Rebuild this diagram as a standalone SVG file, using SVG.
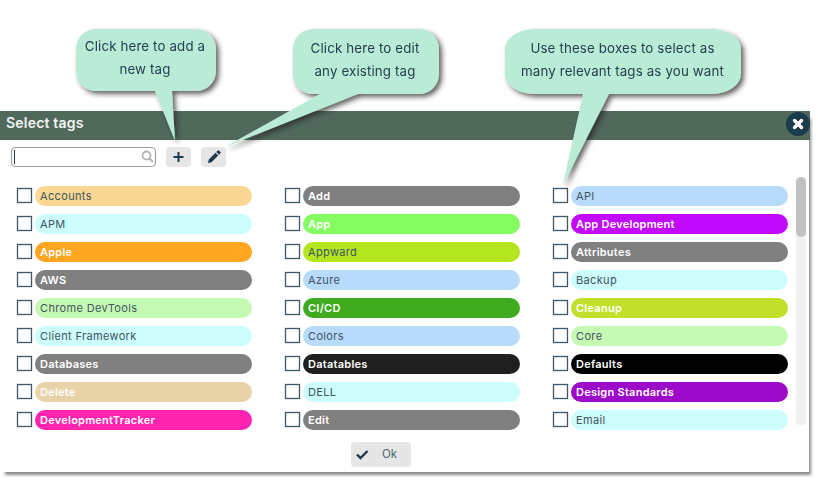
<svg xmlns="http://www.w3.org/2000/svg" width="818" height="480" viewBox="0 0 818 480">
<defs>
<style>
text{font-family:"Inter","Open Sans","Liberation Sans",sans-serif}
.cb{fill:#fff;stroke:#3f5866;stroke-width:1.3}
.pill{stroke:none}
.d{font-size:11px;fill:#3f5560;letter-spacing:.35px}
.w{font-size:11px;fill:#fff;font-weight:600;letter-spacing:.25px}
.co{fill:#baebd6}
.ct{font-size:13.300px;fill:#24404f;text-anchor:middle;letter-spacing:.15px}
.btn{fill:#e6e6e6}
.ic{fill:none;stroke:#1f3a4a;stroke-width:2}
</style>
<filter id="dlg" x="-2%" y="-2%" width="104%" height="104%"><feDropShadow dx="2" dy="3" stdDeviation="1.6" flood-color="#555" flood-opacity=".7"/></filter>
<filter id="sh" x="-20%" y="-20%" width="140%" height="150%"><feDropShadow dx="3" dy="3" stdDeviation="2.4" flood-color="#222" flood-opacity=".7"/></filter>
</defs>
<rect width="818" height="480" fill="#fff"/>
<g id="dialog">
<rect x="3" y="115" width="806" height="357" fill="#fff" filter="url(#dlg)"/>
<rect x="0" y="111" width="810" height="29" fill="#50695b"/>
<text x="6" y="128" style="font-size:14px;font-weight:600;fill:#f2f5f3;letter-spacing:.2px">Select tags</text>
<circle cx="798" cy="124" r="12" fill="#1b3a4b"/>
<path d="M794.500 120.500l7 7M801.500 120.500l-7 7" stroke="#fff" stroke-width="3.400" stroke-linecap="round"/>
</g>
<g id="search">
<rect x="11.500" y="147.500" width="144" height="19" rx="4" fill="#fff" stroke="#a0a0a0" stroke-width="1.200"/>
<path d="M14.500 150v14" stroke="#1f3a4a" stroke-width="1"/>
<circle cx="146.500" cy="155.500" r="4" fill="none" stroke="#b5b5b5" stroke-width="1.800"/>
<path d="M149.500 158.500l3.500 3.500" stroke="#b5b5b5" stroke-width="2.200"/>
</g>
<g id="add-button">
<rect class="btn" x="166" y="147" width="25" height="20" rx="4"/>
<path class="ic" d="M178.500 152v10M173.500 157h10"/>
</g>
<g id="edit-button">
<rect class="btn" x="201" y="147" width="25" height="20" rx="4"/>
<path d="M208 163l.8-3.500 6.700-6.700 2.700 2.700-6.700 6.700zM216.300 152l1.500-1.500a.8 .8 0 0 1 1.100 0l1.600 1.600a.8 .8 0 0 1 0 1.100l-1.500 1.500z" fill="#1f3a4a"/>
</g>
<g id="scrollbar">
<rect x="796" y="177" width="10" height="248" rx="3" fill="#f1f1f1"/>
<rect x="796" y="177" width="10" height="60" rx="5" fill="#c1c1c1"/>
</g>
<g id="tag-accounts"><rect class="cb" x="17.500" y="188.500" width="14" height="14"/><rect class="pill" x="35" y="186" width="217" height="20" rx="10" fill="#fbd794"/><text class="d" x="40" y="200">Accounts</text></g>
<g id="tag-apm"><rect class="cb" x="17.500" y="216.500" width="14" height="14"/><rect class="pill" x="35" y="214" width="217" height="20" rx="10" fill="#ccfcfc"/><text class="d" x="40" y="228">APM</text></g>
<g id="tag-apple"><rect class="cb" x="17.500" y="244.500" width="14" height="14"/><rect class="pill" x="35" y="242" width="217" height="20" rx="10" fill="#ffa51f"/><text class="w" x="40" y="256">Apple</text></g>
<g id="tag-aws"><rect class="cb" x="17.500" y="272.500" width="14" height="14"/><rect class="pill" x="35" y="270" width="217" height="20" rx="10" fill="#808080"/><text class="w" x="40" y="284">AWS</text></g>
<g id="tag-chrome-devtools"><rect class="cb" x="17.500" y="300.500" width="14" height="14"/><rect class="pill" x="35" y="298" width="217" height="20" rx="10" fill="#c6fab4"/><text class="d" x="40" y="312">Chrome DevTools</text></g>
<g id="tag-client-framework"><rect class="cb" x="17.500" y="328.500" width="14" height="14"/><rect class="pill" x="35" y="326" width="217" height="20" rx="10" fill="#ccfcfc"/><text class="d" x="40" y="340">Client Framework</text></g>
<g id="tag-databases"><rect class="cb" x="17.500" y="356.500" width="14" height="14"/><rect class="pill" x="35" y="354" width="217" height="20" rx="10" fill="#808080"/><text class="w" x="40" y="368">Databases</text></g>
<g id="tag-delete"><rect class="cb" x="17.500" y="384.500" width="14" height="14"/><rect class="pill" x="35" y="382" width="217" height="20" rx="10" fill="#e8d2a8"/><text class="w" x="40" y="396">Delete</text></g>
<g id="tag-developmenttracker"><rect class="cb" x="17.500" y="412.500" width="14" height="14"/><rect class="pill" x="35" y="410" width="217" height="20" rx="10" fill="#ff24ad"/><text class="w" x="40" y="424">DevelopmentTracker</text></g>
<g id="tag-add"><rect class="cb" x="285.500" y="188.500" width="14" height="14"/><rect class="pill" x="303" y="186" width="217" height="20" rx="10" fill="#808080"/><text class="w" x="308" y="200">Add</text></g>
<g id="tag-app"><rect class="cb" x="285.500" y="216.500" width="14" height="14"/><rect class="pill" x="303" y="214" width="217" height="20" rx="10" fill="#85fc62"/><text class="w" x="308" y="228">App</text></g>
<g id="tag-appward"><rect class="cb" x="285.500" y="244.500" width="14" height="14"/><rect class="pill" x="303" y="242" width="217" height="20" rx="10" fill="#b3e61e"/><text class="d" x="308" y="256">Appward</text></g>
<g id="tag-azure"><rect class="cb" x="285.500" y="272.500" width="14" height="14"/><rect class="pill" x="303" y="270" width="217" height="20" rx="10" fill="#b8dafc"/><text class="d" x="308" y="284">Azure</text></g>
<g id="tag-cicd"><rect class="cb" x="285.500" y="300.500" width="14" height="14"/><rect class="pill" x="303" y="298" width="217" height="20" rx="10" fill="#40ab1e"/><text class="w" x="308" y="312">CI/CD</text></g>
<g id="tag-colors"><rect class="cb" x="285.500" y="328.500" width="14" height="14"/><rect class="pill" x="303" y="326" width="217" height="20" rx="10" fill="#b8dafc"/><text class="d" x="308" y="340">Colors</text></g>
<g id="tag-datatables"><rect class="cb" x="285.500" y="356.500" width="14" height="14"/><rect class="pill" x="303" y="354" width="217" height="20" rx="10" fill="#1f1f1f"/><text class="w" x="308" y="368">Datatables</text></g>
<g id="tag-dell"><rect class="cb" x="285.500" y="384.500" width="14" height="14"/><rect class="pill" x="303" y="382" width="217" height="20" rx="10" fill="#ccfcfc"/><text class="d" x="308" y="396">DELL</text></g>
<g id="tag-edit"><rect class="cb" x="285.500" y="412.500" width="14" height="14"/><rect class="pill" x="303" y="410" width="217" height="20" rx="10" fill="#808080"/><text class="w" x="308" y="424">Edit</text></g>
<g id="tag-api"><rect class="cb" x="553.500" y="188.500" width="14" height="14"/><rect class="pill" x="571" y="186" width="217" height="20" rx="10" fill="#b8dafc"/><text class="d" x="576" y="200">API</text></g>
<g id="tag-app-development"><rect class="cb" x="553.500" y="216.500" width="14" height="14"/><rect class="pill" x="571" y="214" width="217" height="20" rx="10" fill="#c20aff"/><text class="w" x="576" y="228">App Development</text></g>
<g id="tag-attributes"><rect class="cb" x="553.500" y="244.500" width="14" height="14"/><rect class="pill" x="571" y="242" width="217" height="20" rx="10" fill="#808080"/><text class="w" x="576" y="256">Attributes</text></g>
<g id="tag-backup"><rect class="cb" x="553.500" y="272.500" width="14" height="14"/><rect class="pill" x="571" y="270" width="217" height="20" rx="10" fill="#ccfcfc"/><text class="d" x="576" y="284">Backup</text></g>
<g id="tag-cleanup"><rect class="cb" x="553.500" y="300.500" width="14" height="14"/><rect class="pill" x="571" y="298" width="217" height="20" rx="10" fill="#c2e02a"/><text class="w" x="576" y="312">Cleanup</text></g>
<g id="tag-core"><rect class="cb" x="553.500" y="328.500" width="14" height="14"/><rect class="pill" x="571" y="326" width="217" height="20" rx="10" fill="#c6fab4"/><text class="d" x="576" y="340">Core</text></g>
<g id="tag-defaults"><rect class="cb" x="553.500" y="356.500" width="14" height="14"/><rect class="pill" x="571" y="354" width="217" height="20" rx="10" fill="#000"/><text class="w" x="576" y="368">Defaults</text></g>
<g id="tag-design-standards"><rect class="cb" x="553.500" y="384.500" width="14" height="14"/><rect class="pill" x="571" y="382" width="217" height="20" rx="10" fill="#9c09c9"/><text class="w" x="576" y="396">Design Standards</text></g>
<g id="tag-email"><rect class="cb" x="553.500" y="412.500" width="14" height="14"/><rect class="pill" x="571" y="410" width="217" height="20" rx="10" fill="#ccfcfc"/><text class="d" x="576" y="424">Email</text></g>
<g id="ok-button">
<rect class="btn" x="351" y="442" width="60" height="25" rx="4"/>
<path d="M357 454.500l3.500 3.500 7-7" fill="none" stroke="#1f3a4a" stroke-width="2.400"/>
<text x="382" y="458" style="font-size:11.500px;fill:#4d6470">Ok</text>
</g>
<g id="connectors"/>
<g id="callout-add" filter="url(#sh)">
<path class="co" d="M96 29H196a20 20 0 0 1 20 20V71a20 20 0 0 1-20 20H172L175 141 155 91H96a20 20 0 0 1-20-20V49a20 20 0 0 1 20-20z"/>
<text class="ct" x="145" y="51">Click here to add a</text>
<text class="ct" x="145" y="74">new tag</text>
</g>
<g id="callout-edit" filter="url(#sh)">
<path class="co" d="M313 29H419a20 20 0 0 1 20 20V74a20 20 0 0 1-20 20H358L225 147 320 94H313a20 20 0 0 1-20-20V49a20 20 0 0 1 20-20z"/>
<text class="ct" x="365" y="53">Click here to edit</text>
<text class="ct" x="365" y="76">any existing tag</text>
</g>
<g id="callout-boxes" filter="url(#sh)">
<path class="co" d="M535 29H711a30 20 0 0 1 30 20V74a30 20 0 0 1-30 20H609L563 185 583 94H535a30 20 0 0 1-30-20V49a30 20 0 0 1 30-20z"/>
<text class="ct" x="622.500" y="53">Use these boxes to select as</text>
<text class="ct" x="622.500" y="76">many relevant tags as you want</text>
</g>
</svg>
